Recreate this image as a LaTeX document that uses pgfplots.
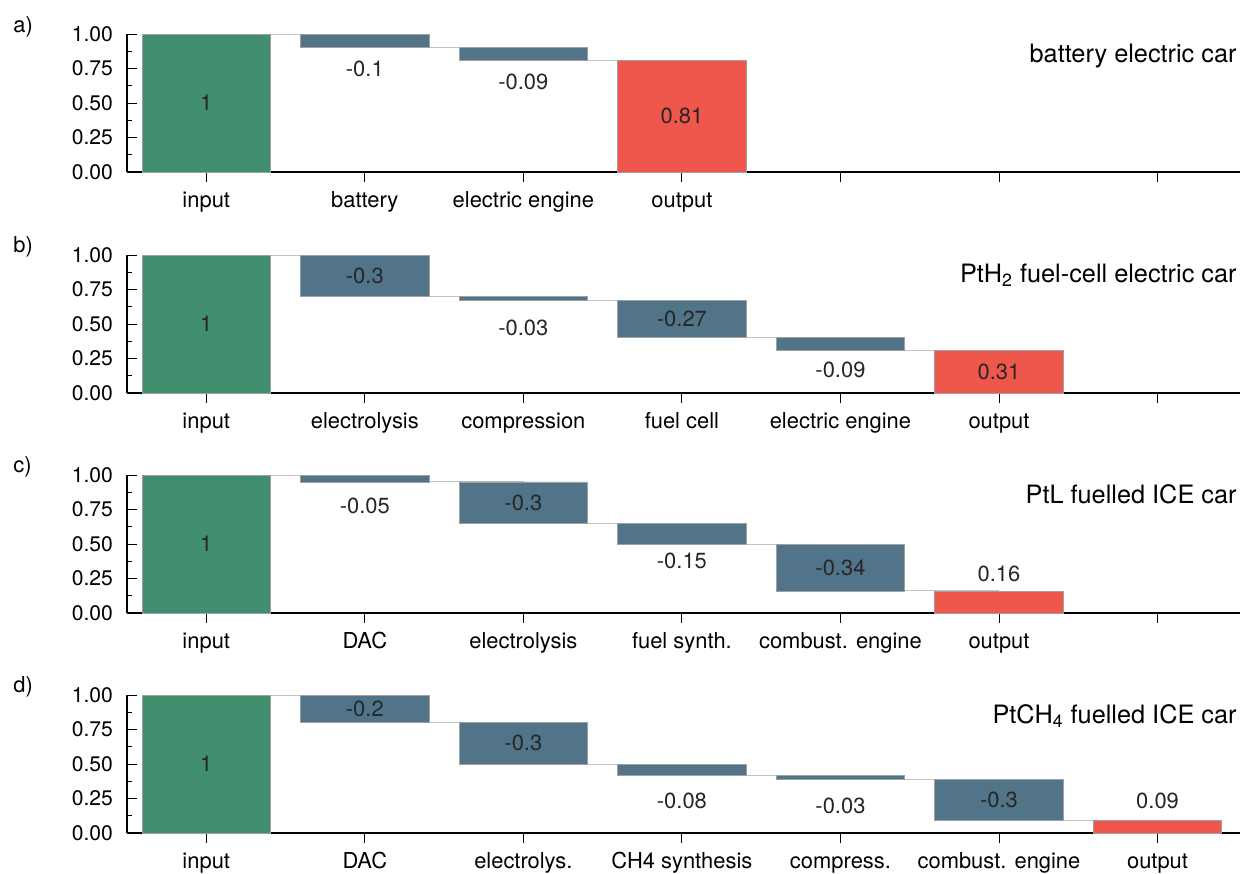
\documentclass[border=0pt]{standalone}
\usepackage{fontspec}
\setmainfont{TeX Gyre Heros}
\usepackage{pgfplots}
\pgfplotsset{compat=1.18}

\definecolor{ingreen}{HTML}{418F6E}
\definecolor{lossblue}{HTML}{517489}
\definecolor{outred}{HTML}{F0574C}
\definecolor{edgegray}{HTML}{A0A0A0}
\definecolor{linkgray}{HTML}{C4C4C4}

\newcommand\tickfont{\fontsize{10.6}{12}\selectfont}
\newcommand\catfont{\fontsize{11}{13}\selectfont}
\newcommand\valfont{\fontsize{11}{13}\selectfont}
\newcommand\titlefont{\fontsize{12.7}{15}\selectfont}

\pgfplotsset{
  panel/.style={
    scale only axis, width=556.5bp, height=69bp,
    xmin=-0.5, xmax=6.52, ymin=0, ymax=1,
    axis x line*=bottom, axis y line*=left,
    axis line style={black, line width=0.7bp},
    xtick={0,...,6},
    ytick={0,0.25,0.5,0.75,1}, minor y tick num=1,
    tick align=inside, major tick length=5bp, minor tick length=2.5bp,
    tick style={black, line width=0.5bp},
    major x tick style={yshift=-5bp},
    /pgf/number format/assume math mode=true,
    yticklabel style={/pgf/number format/fixed, /pgf/number format/fixed zerofill,
      /pgf/number format/precision=2, font=\tickfont, xshift=-3.5bp},
    xticklabel style={font=\catfont, text height=8bp, text depth=2.3bp, yshift=-6bp},
    clip=false,
  },
  bars/.style={ybar, bar width=0.81, bar shift=0pt, draw=edgegray, line width=0.4bp},
  link/.style={const plot, draw=linkgray, line width=0.5bp, mark=none},
  vals/.style={draw=none, mark=none, nodes near coords, point meta=explicit symbolic,
    every node near coord/.append style={anchor=center, font=\valfont, text=black!85}},
}

\begin{document}
\begin{tikzpicture}

% a) battery electric car
\begin{axis}[panel, at={(63.5bp,-86bp)}, anchor=south west,
  xticklabels={input,battery,electric engine,output,,,}]
\addplot[link] coordinates {(0,1) (1,0.9) (2,0.81) (3,0.81)};
\addplot[bars, stack plots=y, draw=none, fill=none] coordinates {(1,0.9) (2,0.81)};
\addplot[bars, stack plots=y, fill=lossblue] coordinates {(1,0.1) (2,0.09)};
\addplot[bars, fill=ingreen] coordinates {(0,1)};
\addplot[bars, fill=outred] coordinates {(3,0.81)};
\addplot[vals] coordinates {(0,0.5) [1] (1,0.75) [-0.1] (2,0.655) [-0.09] (3,0.405) [0.81]};
\node[anchor=base east, inner sep=0, font=\titlefont, xshift=-1.5bp, yshift=-14bp]
  at (rel axis cs:1,1) {battery electric car};
\end{axis}

% b) PtH2 fuel-cell electric car
\begin{axis}[panel, at={(63.5bp,-196.5bp)}, anchor=south west,
  xticklabels={input,electrolysis,compression,fuel cell,electric engine,output,}]
\addplot[link] coordinates {(0,1) (1,0.7) (2,0.67) (3,0.4) (4,0.31) (5,0.31)};
\addplot[bars, stack plots=y, draw=none, fill=none] coordinates {(1,0.7) (2,0.67) (3,0.4) (4,0.31)};
\addplot[bars, stack plots=y, fill=lossblue] coordinates {(1,0.3) (2,0.03) (3,0.27) (4,0.09)};
\addplot[bars, fill=ingreen] coordinates {(0,1)};
\addplot[bars, fill=outred] coordinates {(5,0.31)};
\addplot[vals] coordinates {(0,0.5) [1] (1,0.85) [-0.3] (2,0.475) [-0.03]
  (3,0.535) [-0.27] (4,0.17) [-0.09] (5,0.155) [0.31]};
\node[anchor=base east, inner sep=0, font=\titlefont, xshift=-1.5bp, yshift=-13.5bp]
  at (rel axis cs:1,1) {PtH\textsubscript{2} fuel-cell electric car};
\end{axis}

% c) PtL fuelled ICE car
\begin{axis}[panel, at={(63.5bp,-306.5bp)}, anchor=south west,
  xticklabels={input,DAC,electrolysis,fuel synth.,combust. engine,output,}]
\addplot[link] coordinates {(0,1) (1,0.95) (2,0.65) (3,0.5) (4,0.16) (5,0.16)};
\addplot[bars, stack plots=y, draw=none, fill=none] coordinates {(1,0.95) (2,0.65) (3,0.5) (4,0.16)};
\addplot[bars, stack plots=y, fill=lossblue] coordinates {(1,0.05) (2,0.3) (3,0.15) (4,0.34)};
\addplot[bars, fill=ingreen] coordinates {(0,1)};
\addplot[bars, fill=outred] coordinates {(5,0.16)};
\addplot[vals] coordinates {(0,0.5) [1] (1,0.775) [-0.05] (2,0.8) [-0.3]
  (3,0.375) [-0.15] (4,0.33) [-0.34] (5,0.28) [0.16]};
\node[anchor=base east, inner sep=0, font=\titlefont, xshift=-1.5bp, yshift=-14bp]
  at (rel axis cs:1,1) {PtL fuelled ICE car};
\end{axis}

% d) PtCH4 fuelled ICE car
\begin{axis}[panel, at={(63.5bp,-416.5bp)}, anchor=south west,
  xticklabels={input,DAC,electrolys.,CH4 synthesis,compress.,combust. engine,output}]
\addplot[link] coordinates {(0,1) (1,0.8) (2,0.5) (3,0.42) (4,0.39) (5,0.09) (6,0.09)};
\addplot[bars, stack plots=y, draw=none, fill=none] coordinates {(1,0.8) (2,0.5) (3,0.42) (4,0.39) (5,0.09)};
\addplot[bars, stack plots=y, fill=lossblue] coordinates {(1,0.2) (2,0.3) (3,0.08) (4,0.03) (5,0.3)};
\addplot[bars, fill=ingreen] coordinates {(0,1)};
\addplot[bars, fill=outred] coordinates {(6,0.09)};
\addplot[vals] coordinates {(0,0.5) [1] (1,0.9) [-0.2] (2,0.65) [-0.3]
  (3,0.23) [-0.08] (4,0.2) [-0.03] (5,0.24) [-0.3] (6,0.23) [0.09]};
\node[anchor=base east, inner sep=0, font=\titlefont, xshift=-1.5bp, yshift=-14bp]
  at (rel axis cs:1,1) {PtCH\textsubscript{4} fuelled ICE car};
\end{axis}

\node[anchor=west, inner sep=0, font=\catfont] at (6.5bp,-13.5bp) {a)};
\node[anchor=west, inner sep=0, font=\catfont] at (6.5bp,-123.5bp) {b)};
\node[anchor=west, inner sep=0, font=\catfont] at (6.5bp,-233.5bp) {c)};
\node[anchor=west, inner sep=0, font=\catfont] at (6.5bp,-343.5bp) {d)};

\pgfresetboundingbox
\useasboundingbox (0,0) rectangle (620.5bp,-437bp);
\end{tikzpicture}
\end{document}
